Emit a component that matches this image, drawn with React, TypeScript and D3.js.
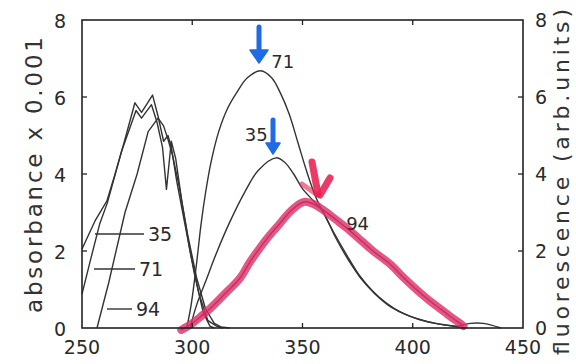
import * as d3 from "d3";

type Pt = [number, number];

const xTicks = [250, 300, 350, 400, 450];
const yTicks = [0, 2, 4, 6, 8];
const innerTicksX = [300, 350, 400];
const innerTicksY = [2, 4, 6];

// absorbance x 0.001, wavelength in nm
const absA: Pt[] = [
  [250, 2.05], [255.9, 2.78], [261.3, 3.3], [265, 4.0], [269, 4.8], [274, 5.85], [277, 5.6],
  [282, 6.05], [284.5, 5.5], [287, 4.85], [289, 5.0], [290.5, 4.7], [293, 3.8], [297, 2.6],
  [301, 1.4], [305, 0.4], [308, 0.05], [310, 0],
];
const absB: Pt[] = [
  [250, 0.88], [254, 1.8], [258, 2.7], [261.5, 3.25], [268, 4.6], [274.5, 5.65], [277, 5.45],
  [281.5, 5.8], [284, 5.35], [286.5, 4.7], [288.3, 3.6], [290.5, 4.85], [292.5, 4.4],
  [295.5, 3.2], [299, 2.0], [303, 0.9], [307, 0.2], [311, 0.05], [314, 0],
];
const absC: Pt[] = [
  [256.8, 0], [262, 1.15], [269.5, 3.0], [275, 4.0], [280, 5.1], [284.5, 5.45], [287, 5.25],
  [289, 4.9], [291, 4.5], [294, 3.7], [298, 2.4], [302, 1.3], [306, 0.5], [310, 0.12],
  [313, 0.03], [317, 0],
];

// fluorescence (arb. units)
const fl71: Pt[] = [
  [297.5, 0], [299.5, 0.6], [302, 1.7], [304, 2.7], [306, 3.5], [308.5, 4.3], [312, 5.1],
  [316, 5.7], [320, 6.1], [325, 6.5], [331, 6.68], [336, 6.5], [340, 6.1], [344, 5.55],
  [348, 4.8], [352, 4.05], [356, 3.4], [359, 3.05], [364, 2.5], [370, 1.9], [376, 1.35],
  [382, 0.95], [388, 0.65], [395, 0.4], [403, 0.22], [412, 0.1], [420, 0.05], [426, 0.12],
  [432, 0.12], [440, 0],
];
const fl35: Pt[] = [
  [299, 0], [302, 0.6], [306, 1.2], [311, 1.95], [317, 2.75], [324, 3.55], [330, 4.1],
  [338, 4.42], [342, 4.3], [346, 4.0], [350, 3.62], [355, 3.3], [359, 3.05], [365, 2.35],
  [371, 1.75], [377, 1.25], [383, 0.88], [390, 0.55], [398, 0.32], [407, 0.16], [416, 0.07],
  [424, 0],
];
const fl94: Pt[] = [
  [295, -0.05], [300, 0.12], [303.5, 0.28], [308, 0.5], [315, 0.9], [321.7, 1.3], [326, 1.7],
  [330.7, 2.08], [335, 2.4], [339.8, 2.72], [344, 3.0], [348, 3.2], [351, 3.28], [355, 3.22],
  [359, 3.08], [365, 2.82], [370, 2.6], [376, 2.3], [382, 2.0], [389.7, 1.66], [396, 1.3],
  [402, 0.98], [407, 0.74], [412, 0.52], [417, 0.3], [420, 0.18], [423, 0.05],
];

const legendItems = [
  { label: "35", x0: 95, x1: 144, y: 234 },
  { label: "71", x0: 94, x1: 135, y: 269 },
  { label: "94", x0: 107, x1: 132, y: 309 },
];

const peakLabels = [
  { label: "71", nm: 341, v: 6.75 },
  { label: "35", nm: 329, v: 4.85 },
  { label: "94", nm: 375, v: 2.55 },
];

const font = "'DejaVu Sans', Verdana, sans-serif";
const ink = "#333";

export default function App() {
  const x = d3.scaleLinear().domain([250, 450]).range([82, 523]);
  const y = d3.scaleLinear().domain([0, 8]).range([328, 20]);
  const jagged = d3.line<Pt>().x((d) => x(d[0])).y((d) => y(d[1]));
  const smooth = d3
    .line<Pt>()
    .x((d) => x(d[0]))
    .y((d) => y(d[1]))
    .curve(d3.curveCatmullRom.alpha(0.5));

  const [x0, x1] = x.range();
  const [y0, y1] = y.range();

  return (
    <svg width={576} height={364} style={{ position: "absolute", left: 0, top: 0, background: "#fff" }}>
      <g fill="none" stroke={ink} strokeWidth={1.4} strokeLinejoin="round">
        {[absA, absB, absC].map((d, i) => (
          <path key={`a${i}`} d={jagged(d) ?? ""} />
        ))}
        {[fl71, fl35, fl94].map((d, i) => (
          <path key={`f${i}`} d={smooth(d) ?? ""} />
        ))}
      </g>

      {/* hand-drawn highlight over the 94 emission */}
      <path
        d={smooth(fl94) ?? ""}
        fill="none"
        stroke="#e2306a"
        strokeOpacity={0.82}
        strokeWidth={8}
        strokeLinecap="round"
      />

      {/* frame */}
      <rect x={x0} y={y1} width={x1 - x0} height={y0 - y1} fill="none" stroke="#222" strokeWidth={1.6} />
      <g stroke="#222" strokeWidth={1.3}>
        {innerTicksX.map((t) => (
          <g key={`tx${t}`}>
            <line x1={x(t)} x2={x(t)} y1={y1} y2={y1 + 5} />
            <line x1={x(t)} x2={x(t)} y1={y0} y2={y0 - 5} />
          </g>
        ))}
        {innerTicksY.map((t) => (
          <g key={`ty${t}`}>
            <line x1={x0} x2={x0 + 5} y1={y(t)} y2={y(t)} />
            <line x1={x1} x2={x1 - 5} y1={y(t)} y2={y(t)} />
          </g>
        ))}
      </g>

      <g fontFamily={font} fontSize={19} fill="#2a2a2a">
        {xTicks.map((t) => (
          <text key={`lx${t}`} x={x(t)} y={354} textAnchor="middle">
            {t}
          </text>
        ))}
        {yTicks.map((t) => (
          <text key={`ly${t}`} x={66} y={y(t) + 8} textAnchor="end">
            {t}
          </text>
        ))}
        {yTicks.map((t) => (
          <text key={`ry${t}`} x={535} y={y(t) + 7} textAnchor="start">
            {t}
          </text>
        ))}
        {legendItems.map((l) => (
          <g key={l.label}>
            <line x1={l.x0} x2={l.x1} y1={l.y} y2={l.y} stroke={ink} strokeWidth={1.4} />
            <text x={l.x1 + 4} y={l.y + 7}>
              {l.label}
            </text>
          </g>
        ))}
        {peakLabels.map((l) => (
          <text key={`p${l.label}`} x={x(l.nm)} y={y(l.v)} textAnchor="middle" fontSize={18}>
            {l.label}
          </text>
        ))}
      </g>

      <text
        transform="translate(42,175) rotate(-90)"
        textAnchor="middle"
        fontFamily={font}
        fontSize={23}
        fill="#333"
        textLength={276}
        lengthAdjust="spacing"
      >
        absorbance x 0.001
      </text>
      <text
        transform="translate(569,182) rotate(-90)"
        textAnchor="middle"
        fontFamily={font}
        fontSize={22}
        fill="#333"
        textLength={346}
        lengthAdjust="spacing"
      >
        fluorescence (arb.units)
      </text>

      {/* blue arrows marking the peaks */}
      <g fill="#1f6ae6" stroke="#1f6ae6" strokeLinecap="round">
        <line x1={259} x2={259} y1={27} y2={52} strokeWidth={5} />
        <path d="M250,50 L268,50 L259,63 Z" strokeWidth={1.5} strokeLinejoin="round" />
        <line x1={273} x2={273} y1={120} y2={146} strokeWidth={5} />
        <path d="M266,143 L280,143 L273,154 Z" strokeWidth={1.5} strokeLinejoin="round" />
      </g>

      {/* red check mark at the crossing */}
      <g fill="none" stroke="#e8204f" strokeOpacity={0.88} strokeWidth={7} strokeLinecap="round">
        <path d="M312,162 L318,194" />
        <path d="M330,178 L320,195" />
        <path d="M302,184 L316,194" strokeOpacity={0.6} strokeWidth={5} />
      </g>
    </svg>
  );
}
